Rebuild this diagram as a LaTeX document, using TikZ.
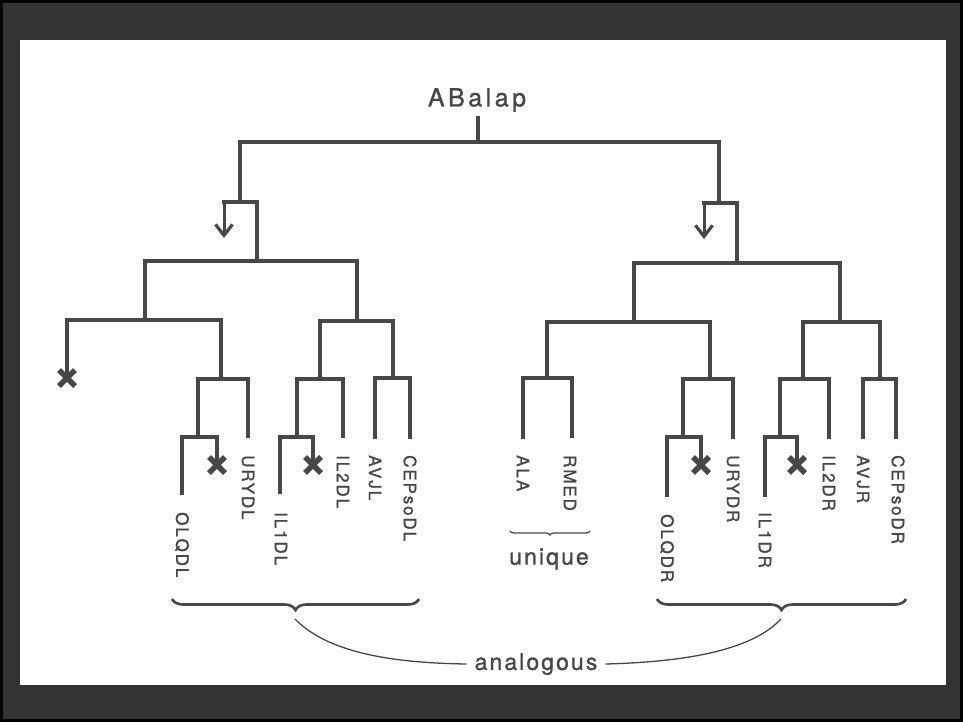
\documentclass[tikz,border=0pt]{standalone}
\usepackage{fontspec}
\setmainfont{TeX Gyre Heros}
\newfontfamily\leaffont[LetterSpace=11,FakeBold=1.2]{TeX Gyre Heros}
\newfontfamily\titlefont[LetterSpace=14,FakeBold=1]{TeX Gyre Heros}
\newfontfamily\notefont[LetterSpace=9,FakeBold=1]{TeX Gyre Heros}
\usetikzlibrary{arrows.meta,decorations.pathreplacing}
\definecolor{ink}{HTML}{474747}
\definecolor{frame}{HTML}{333333}
\begin{document}
\begin{tikzpicture}[x=1pt,y=-1pt,
  edge/.style={draw=ink,line width=3.4pt,line cap=rect,line join=miter},
  pointer/.style={draw=ink,line width=3pt,-{Straight Barb[length=11pt,width=17pt,line width=3.2pt]}},
  leaf/.style={rotate=-90,anchor=west,inner sep=0pt,text=ink,font=\leaffont\fontsize{17}{17}\selectfont},
  lost/.style={draw=ink,line width=5.5pt},
  bigbrace/.style={draw=ink,line width=2.6pt,decorate,decoration={brace,mirror,amplitude=11pt}},
  thin/.style={draw=ink,line width=1.3pt}]
% background
\fill[black] (0,0) rectangle (963,722);
\fill[frame] (3,3) rectangle (960,719);
\fill[white] (20,40) rectangle (946,685);
\useasboundingbox (0,0) rectangle (963,722);

% root
\node[text=ink,font=\titlefont\fontsize{25}{25}\selectfont,inner sep=0pt] (root) at (477,100) {ABalap};
\coordinate (r0) at (478,142);
\draw[edge] (478,118) -- (r0);
\draw[edge] (240,142) -- (719,142);

% ---------- left half ----------
\draw[edge] (240,142) -- (240,202);
\draw[edge] (224,202) -- (257,202);
\coordinate (aL) at (224,202);
\coordinate (aLend) at (224,238);
\draw[pointer] (aL) -- (aLend);
\draw[edge] (257,202) -- (257,261);
\draw[edge] (145,261) -- (357,261);
% far-left lost branch
\draw[edge] (145,261) -- (145,320);
\draw[edge] (67,320) -- (221,320);
\coordinate (x0) at (67,378);
\draw[edge] (67,320) -- (67,372);
% OLQ / URY group
\draw[edge] (221,320) -- (221,379);
\draw[edge] (198,379) -- (248,379);
\draw[edge] (248,379) -- (248,436);
\draw[edge] (198,379) -- (198,437);
\draw[edge] (182,437) -- (217,437);
\draw[edge] (182,437) -- (182,493);
\draw[edge] (217,437) -- (217,460);
\coordinate (x1) at (217,465);
% IL group
\draw[edge] (357,261) -- (357,321);
\draw[edge] (320,321) -- (393,321);
\draw[edge] (320,321) -- (320,379);
\draw[edge] (297,379) -- (343,379);
\draw[edge] (343,379) -- (343,436);
\draw[edge] (297,379) -- (297,437);
\draw[edge] (280,437) -- (313,437);
\draw[edge] (280,437) -- (280,492);
\draw[edge] (313,437) -- (313,460);
\coordinate (x2) at (313,465);
% AVJ / CEP
\draw[edge] (393,321) -- (393,378);
\draw[edge] (375,378) -- (410,378);
\draw[edge] (375,378) -- (375,437);
\draw[edge] (410,378) -- (410,437);

% ---------- right half ----------
\draw[edge] (719,142) -- (719,203);
\draw[edge] (704,203) -- (737,203);
\coordinate (aR) at (704,203);
\coordinate (aRend) at (704,239);
\draw[pointer] (aR) -- (aRend);
\draw[edge] (737,203) -- (737,263);
\draw[edge] (634,263) -- (840,263);
\draw[edge] (634,263) -- (634,322);
\draw[edge] (547,322) -- (710,322);
% ALA / RMED
\draw[edge] (547,322) -- (547,378);
\draw[edge] (523,378) -- (572,378);
\draw[edge] (523,378) -- (523,437);
\draw[edge] (572,378) -- (572,436);
% OLQ / URY
\draw[edge] (710,322) -- (710,379);
\draw[edge] (683,379) -- (733,379);
\draw[edge] (733,379) -- (733,437);
\draw[edge] (683,379) -- (683,437);
\draw[edge] (667,437) -- (701,437);
\draw[edge] (667,437) -- (667,495);
\draw[edge] (701,437) -- (701,460);
\coordinate (x3) at (701,465);
% IL group
\draw[edge] (840,263) -- (840,322);
\draw[edge] (803,322) -- (880,322);
\draw[edge] (803,322) -- (803,379);
\draw[edge] (780,379) -- (829,379);
\draw[edge] (829,379) -- (829,437);
\draw[edge] (780,379) -- (780,437);
\draw[edge] (765,437) -- (797,437);
\draw[edge] (765,437) -- (765,495);
\draw[edge] (797,437) -- (797,460);
\coordinate (x4) at (797,465);
% AVJ / CEP
\draw[edge] (880,322) -- (880,379);
\draw[edge] (863,379) -- (896,379);
\draw[edge] (863,379) -- (863,437);
\draw[edge] (896,379) -- (896,437);

% X marks (lost cells)
\foreach \c in {x0,x1,x2,x3,x4}{
  \draw[lost] ([shift={(-8,-8)}]\c) -- ([shift={(8,8)}]\c);
  \draw[lost] ([shift={(-8,8)}]\c) -- ([shift={(8,-8)}]\c);
}

% leaf labels
\node[leaf] (OLQDL) at (182,512) {OLQDL};
\node[leaf] (URYDL) at (248,455) {URYDL};
\node[leaf] (IL1DL) at (281,512) {IL1DL};
\node[leaf] (IL2DL) at (343,455) {IL2DL};
\node[leaf] (AVJL) at (375,455) {AVJL};
\node[leaf] (CEPsoDL) at (410,455) {CEPsoDL};
\node[leaf] (ALA) at (523,455) {ALA};
\node[leaf] (RMED) at (570,455) {RMED};
\node[leaf] (OLQDR) at (667,514) {OLQDR};
\node[leaf] (URYDR) at (733,455) {URYDR};
\node[leaf] (IL1DR) at (765,512) {IL1DR};
\node[leaf] (IL2DR) at (829,455) {IL2DR};
\node[leaf] (AVJR) at (863,455) {AVJR};
\node[leaf] (CEPsoDR) at (898,455) {CEPsoDR};

% unique
\draw[thin,decorate,decoration={brace,mirror,amplitude=4pt}] (510,531) -- (590,531);
\node[text=ink,font=\notefont\fontsize{23}{23}\selectfont,inner sep=0pt] (unique) at (549,559) {unique};

% analogous braces
\draw[bigbrace] (172,599) -- (419,599);
\draw[bigbrace] (657,599) -- (906,599);
\coordinate (tipL) at (295,619);
\coordinate (tipR) at (781,619);
\node[text=ink,font=\notefont\fontsize{23}{23}\selectfont,inner sep=0pt] (analog) at (536,664) {analogous};
\draw[thin] (tipL) .. controls (330,655) and (400,663) .. ([xshift=-8pt]analog.west);
\draw[thin] ([xshift=8pt]analog.east) .. controls (680,662) and (750,652) .. (tipR);
\end{tikzpicture}
\end{document}
